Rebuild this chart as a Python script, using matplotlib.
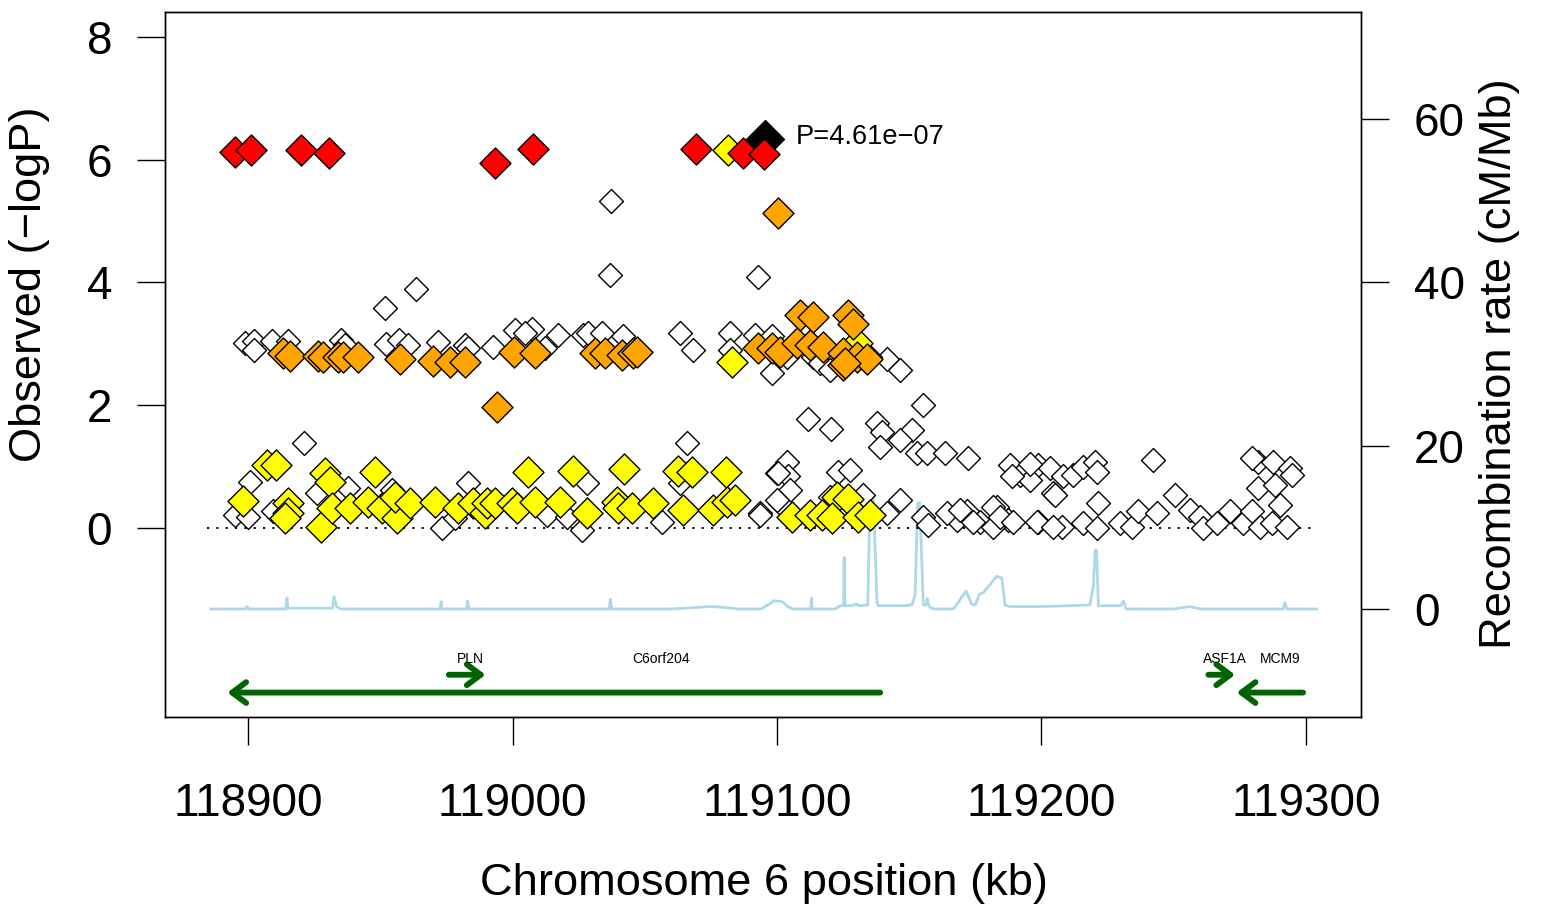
import matplotlib
matplotlib.use("Agg")
from matplotlib import pyplot as plt

plt.rcParams['font.family'] = ['Liberation Sans', 'DejaVu Sans']

# ---- association results (position in kb, -log10 P), grouped by LD class ----
lead_pos = [119095.3]
lead_logp = [6.336]
lead_label = 'P=4.61e\u221207'

red_pos = [118895.1, 118901.2, 118919.9, 118930.6, 118993.3, 119007.6,
           119069.5, 119087.3, 119095.1]
red_logp = [6.13, 6.16, 6.16, 6.10, 5.94, 6.18, 6.17, 6.10, 6.09]

orange_pos = [119100.5, 118994.0, 118913.3, 118915.9, 118926.6, 118928.5,
              118934.1, 118936.0, 118941.7, 118957.5, 118970.1, 118976.4,
              118982.0, 119000.7, 119008.5, 119031.2, 119035.0, 119041.3,
              119045.7, 119047.0, 119092.9, 119098.0, 119101.1, 119107.4,
              119112.5, 119117.5, 119108.7, 119113.7, 119127.0, 119128.8,
              119125.1, 119125.1, 119130.1, 119133.9, 119125.7]
orange_logp = [5.13, 1.97, 2.85, 2.80, 2.80, 2.79,
               2.78, 2.78, 2.79, 2.76, 2.72, 2.71,
               2.71, 2.87, 2.85, 2.85, 2.85, 2.82,
               2.85, 2.87, 2.93, 2.93, 2.87, 3.01,
               2.98, 2.95, 3.47, 3.44, 3.47, 3.33,
               2.85, 2.65, 2.79, 2.76, 2.68]

yellow_pos = [119081.6, 119082.9, 119130.1, 118907.1, 118910.5, 118898.0,
              118915.2, 118915.2, 118914.0, 118929.1, 118931.0, 118927.6,
              118931.6, 118938.6, 118948.0, 118945.5, 118950.5, 118956.2,
              118955.6, 118961.2, 118970.7, 118979.5, 118985.2, 118989.6,
              119006.0, 119023.0, 119042.2, 119062.7, 119067.7, 119080.7,
              118990.2, 118993.4, 118999.7, 119001.6, 119008.5, 119018.0,
              119028.0, 119039.4, 119040.0, 119045.1, 119053.2, 119064.6,
              119075.9, 119081.0, 119084.1, 119105.8, 119112.5, 119116.9,
              119122.6, 119127.0, 119120.7, 119130.7, 119135.2]
yellow_logp = [6.16, 2.71, 3.02, 1.03, 1.03, 0.44,
               0.40, 0.24, 0.16, 0.89, 0.75, 0.02,
               0.32, 0.32, 0.92, 0.43, 0.32, 0.16,
               0.51, 0.40, 0.43, 0.32, 0.40, 0.24,
               0.91, 0.93, 0.96, 0.93, 0.92, 0.92,
               0.40, 0.40, 0.40, 0.32, 0.43, 0.43,
               0.24, 0.43, 0.32, 0.32, 0.40, 0.29,
               0.29, 0.43, 0.46, 0.18, 0.21, 0.21,
               0.51, 0.48, 0.16, 0.18, 0.21]

white_pos = [118951.8, 118963.4, 119037.2, 119036.7, 119092.9,
             118898.9, 118902.4, 118902.4, 118909.2, 118915.2, 118935.0,
             118936.7, 118952.2, 118957.1, 118960.6, 118971.9, 118982.0,
             118983.3, 118992.7, 119000.9, 119007.3, 119012.3, 119017.3,
             119026.8, 119028.7, 119004.7, 119033.7, 119041.9, 119063.3,
             119068.4, 119082.2, 119082.2, 119091.7, 119098.0, 119098.0,
             119103.7, 119113.7, 119116.3, 119120.0, 119141.5, 119146.5,
             119135.2,
             118921.3, 119111.8, 119120.3, 119155.1, 119137.7, 119139.6,
             119138.9, 119150.9, 119152.8, 119156.6, 119163.5, 119172.3,
             119146.5, 119188.1, 119191.9, 119198.8, 119195.6, 119203.2,
             119204.5, 119188.7, 119195.6, 119208.2, 119205.1, 119212.0,
             119215.8, 119220.2, 119220.9, 119242.3, 119250.5, 119282.0,
             119287.6, 119294.0, 119294.6, 119282.0, 119288.3, 119290.2,
             119279.5,
             119167.9, 119171.7, 119176.7, 119183.1, 119187.5, 119181.8,
             119198.8, 119207.6, 119215.8, 119221.5, 119220.9, 119229.7,
             119234.1, 119236.6, 119243.5, 119256.1, 119259.9, 119261.2,
             119266.2, 119271.3, 119276.3, 119279.5, 119282.6, 119287.0,
             119292.7, 119146.5, 119155.3, 119157.2, 119164.1, 119169.2,
             119174.2, 119181.8, 119184.3, 119189.3, 119198.2, 119204.5,
             119103.7, 119099.9, 119104.3, 119104.9, 119101.1, 119093.6,
             119123.2, 119127.6, 119120.0, 119132.6, 119141.5,
             118900.8, 118895.1, 118900.1, 118909.6, 118926.0, 118937.9,
             118973.2, 118983.3, 118978.3, 118954.3, 119065.9, 119028.0,
             119026.2, 119012.9, 119056.4, 119093.6, 119100.5, 119099.9,
             119020.5, 119063.3]
white_logp = [3.59, 3.89, 5.33, 4.12, 4.09,
              3.02, 3.05, 2.90, 3.04, 3.05, 3.06,
              2.98, 3.00, 3.06, 2.98, 3.03, 2.98,
              2.93, 2.94, 3.22, 3.24, 2.93, 3.14,
              3.14, 3.17, 3.17, 3.17, 3.12, 3.17,
              2.90, 3.17, 2.90, 3.14, 3.12, 2.52,
              2.79, 2.79, 2.68, 2.57, 2.76, 2.57,
              2.79,
              1.38, 1.77, 1.62, 2.00, 1.71, 1.57,
              1.32, 1.60, 1.22, 1.22, 1.22, 1.14,
              1.43, 1.03, 0.86, 1.03, 0.78, 0.97,
              0.57, 0.84, 1.05, 0.84, 0.54, 0.86,
              1.00, 1.08, 0.92, 1.11, 0.54, 1.08,
              1.08, 0.97, 0.86, 0.65, 0.70, 0.37,
              1.14,
              0.13, 0.27, 0.10, 0.35, 0.13, 0.02,
              0.10, 0.02, 0.08, 0.40, 0.00, 0.08,
              0.02, 0.27, 0.24, 0.29, 0.18, 0.00,
              0.08, 0.27, 0.08, 0.27, 0.02, 0.08,
              0.02, 0.46, 0.18, 0.05, 0.24, 0.29,
              0.10, 0.35, 0.18, 0.10, 0.10, 0.02,
              1.08, 0.89, 0.84, 0.62, 0.40, 0.24,
              0.92, 0.94, 0.51, 0.54, 0.24,
              0.75, 0.21, 0.18, 0.27, 0.57, 0.65,
              0.00, 0.73, 0.16, 0.62, 1.38, 0.73,
              -0.03, 0.21, 0.10, 0.21, 0.89, 0.46,
              0.18, 0.73]

# ---- recombination rate (cM/Mb) ----
recomb_pos = [118886.0, 118899.0, 118899.6, 118900.3, 118914.3, 118914.7,
              118915.1, 118932.0, 118932.5, 118933.5, 118935.0, 118972.7,
              118973.0, 118973.3, 118982.6, 118983.0, 118983.5, 119036.6,
              119037.0, 119037.5, 119060.0, 119070.0, 119075.0, 119080.0,
              119085.0, 119094.0, 119097.0, 119099.0, 119102.0, 119104.0,
              119106.0, 119112.8, 119113.0, 119113.3, 119122.0, 119124.0,
              119125.2, 119125.4, 119125.7, 119128.0, 119130.0, 119131.0,
              119134.3, 119135.2, 119136.4, 119137.8, 119138.3, 119148.0,
              119151.0, 119152.2, 119153.2, 119154.0, 119155.3, 119156.3,
              119156.8, 119157.5, 119159.0, 119166.7, 119171.5, 119173.6,
              119175.0, 119176.5, 119178.0, 119183.1, 119185.0, 119186.2,
              119188.0, 119200.0, 119210.0, 119218.3, 119219.6, 119220.3,
              119220.8, 119221.5, 119230.0, 119231.0, 119232.0, 119250.0,
              119256.0, 119260.0, 119291.5, 119292.0, 119292.8, 119304.0]
recomb_rate = [0.0, 0.0, 0.3, 0.0, 0.0, 1.35,
               0.1, 0.1, 1.5, 0.3, 0.0, 0.0,
               0.9, 0.0, 0.0, 1.0, 0.0, 0.0,
               1.2, 0.0, 0.0, 0.2, 0.3, 0.2,
               0.0, 0.0, 0.6, 1.0, 0.9, 0.3,
               0.0, 0.0, 1.35, 0.0, 0.0, 0.4,
               0.4, 6.3, 0.4, 0.4, 0.6, 0.4,
               0.5, 14.0, 14.0, 0.8, 0.4, 0.4,
               0.5, 1.7, 13.0, 13.0, 0.5, 0.5,
               1.3, 0.3, 0.0, 0.0, 2.2, 0.6,
               0.5, 1.8, 2.0, 4.0, 3.8, 0.5,
               0.3, 0.3, 0.4, 0.5, 2.8, 7.2,
               7.2, 0.4, 0.4, 1.0, 0.0, 0.0,
               0.3, 0.0, 0.0, 0.8, 0.0, 0.0]

# ---- genes ----
gene_names = ['C6orf204', 'PLN', 'ASF1A', 'MCM9']
gene_start = [118892.2, 118975.9, 119263.1, 119273.8]
gene_end = [119139.0, 118989.8, 119273.2, 119298.9]
gene_strand = ['-', '+', '+', '-']
gene_y = [-2.68, -2.39, -2.39, -2.68]
gene_label_x = [119056.1, 118983.9, 119269.5, 119290.2]
gene_label_y = -2.13

xticks = [118900, 119000, 119100, 119200, 119300]
yticks = [0, 2, 4, 6, 8]
rticks = [0, 20, 40, 60]

fig = plt.figure(figsize=(15.41, 9.09), dpi=100)
ax = fig.add_axes([0.10707, 0.21122, 0.77612, 0.77558])
ax2 = ax.twinx()
ax.set_zorder(ax2.get_zorder() + 1)
ax.patch.set_visible(False)

ax.set_xlim(118868.6, 119320.8)
ax.set_ylim(-3.078, 8.404)
ax2.set_ylim(-13.23, 73.12)

# recombination rate on the right-hand scale
ax2.plot(recomb_pos, recomb_rate, color='#ADD8E6', lw=2.0, zorder=1)

# significance baseline
ax.plot([118884.5, 119301.9], [0, 0], color='black', lw=1.4,
        dashes=(1.1, 3.7), zorder=1)

ms_small = 12.2 ** 2
ms_big = 15.8 ** 2
ax.scatter(white_pos, white_logp, marker='D', s=ms_small, facecolor='white',
           edgecolor='black', linewidths=1.0, zorder=2)
ax.scatter(yellow_pos, yellow_logp, marker='D', s=ms_big, facecolor='#FFFF00',
           edgecolor='black', linewidths=1.0, zorder=3)
ax.scatter(orange_pos, orange_logp, marker='D', s=ms_big, facecolor='#FFA500',
           edgecolor='black', linewidths=1.0, zorder=4)
ax.scatter(lead_pos, lead_logp, marker='D', s=19.3 ** 2, facecolor='black',
           edgecolor='black', linewidths=1.0, zorder=5)
ax.scatter(red_pos, red_logp, marker='D', s=ms_big, facecolor='#FF0000',
           edgecolor='black', linewidths=1.0, zorder=6)

ax.text(119107.2, 6.37, lead_label, fontsize=19.6, ha='left', va='center')

# gene track
for name, g0, g1, strand, gy, lx in zip(gene_names, gene_start, gene_end,
                                         gene_strand, gene_y, gene_label_x):
    tip, tail = (g1, g0) if strand == '+' else (g0, g1)
    ax.annotate('', xy=(tip, gy), xytext=(tail, gy),
                arrowprops=dict(arrowstyle='->,head_length=1.0,head_width=0.75',
                                color='#006400', lw=4.2, shrinkA=0, shrinkB=0,
                                mutation_scale=10, capstyle='round'))
    ax.text(lx, gene_label_y, name, fontsize=10, ha='center', va='center')

# axes styling
for a in (ax, ax2):
    for sp in a.spines.values():
        sp.set_linewidth(1.0)
        sp.set_color('black')

ax.set_xticks(xticks)
ax.set_xticklabels([str(t) for t in xticks])
ax.set_yticks(yticks)
ax.set_yticklabels([str(t) for t in yticks])
ax.tick_params(axis='x', direction='out', length=20, width=1, labelsize=33, pad=27)
ax.tick_params(axis='y', direction='out', length=20, width=1, labelsize=33, pad=18)

ax2.set_yticks(rticks)
ax2.set_yticklabels([str(t) for t in rticks])
ax2.tick_params(axis='y', direction='out', length=20, width=1, labelsize=33, pad=18)

ax.set_xlabel('Chromosome 6 position (kb)', fontsize=32.6, va='center')
ax.xaxis.set_label_coords(0.5004, -0.2355)
ax.set_ylabel('Observed (\u2212logP)', fontsize=32.6, va='center')
ax.yaxis.set_label_coords(-0.1129, 0.614)
ax2.set_ylabel('Recombination rate (cM/Mb)', fontsize=32.6, va='center')
ax2.yaxis.set_label_coords(1.1162, 0.5007)

fig.savefig('out.png', dpi=100)
plt.close(fig)
